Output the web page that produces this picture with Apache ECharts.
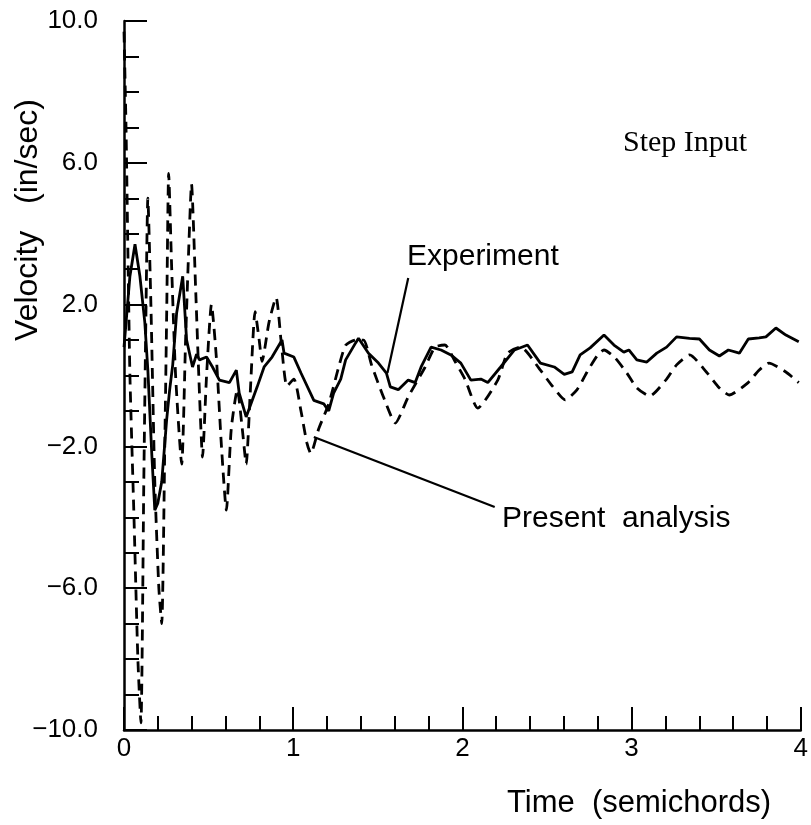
<!DOCTYPE html>
<html>
<head>
<meta charset="utf-8">
<script src="https://cdn.jsdelivr.net/npm/echarts@6/dist/echarts.min.js"></script>
<style>html,body{margin:0;padding:0;background:#fff;}#c{width:811px;height:825px;}</style>
</head>
<body>
<div id="c"></div>
<script>
// Experiment (solid line): time in semichords, velocity in in/sec
const expT = [0.000,0.035,0.065,0.094,0.123,0.141,0.164,0.182,0.200,0.223,0.252,0.270,0.288,0.311,0.347,0.370,0.405,0.429,0.446,0.488,0.523,0.564,0.623,0.664,0.681,0.722,0.758,0.787,0.828,0.875,0.934,0.946,1.004,1.046,1.122,1.181,1.210,1.239,1.281,1.310,1.369,1.386,1.445,1.504,1.551,1.574,1.621,1.680,1.721,1.756,1.815,1.874,1.932,1.991,2.050,2.109,2.150,2.226,2.308,2.385,2.461,2.543,2.602,2.649,2.696,2.755,2.837,2.896,2.954,2.984,3.031,3.090,3.149,3.207,3.266,3.343,3.401,3.460,3.519,3.572,3.637,3.690,3.754,3.794,3.853,3.912,3.988];
const expV = [0.8,2.8,3.7,2.8,1.5,0.15,-2.2,-3.8,-3.6,-3.0,-1.25,-0.4,0.3,1.76,2.8,1.0,0.24,0.6,0.44,0.52,0.24,-0.13,-0.2,0.15,-0.5,-1.17,-0.7,-0.32,0.24,0.52,1.0,0.63,0.52,0.07,-0.7,-0.8,-1.0,-0.5,-0.1,0.44,0.92,1.05,0.63,0.35,0.07,-0.32,-0.4,-0.13,-0.2,0.24,0.8,0.72,0.58,0.35,-0.13,-0.1,-0.2,0.24,0.72,0.86,0.35,0.24,0.03,0.1,0.58,0.78,1.14,0.86,0.66,0.72,0.44,0.38,0.63,0.8,1.09,1.05,1.03,0.72,0.55,0.72,0.63,1.03,1.06,1.09,1.34,1.14,0.95];

// Present analysis (dashed line)
const anaT = [0.000,0.012,0.023,0.035,0.059,0.082,0.100,0.117,0.129,0.141,0.159,0.182,0.206,0.223,0.241,0.253,0.264,0.282,0.305,0.341,0.364,0.382,0.399,0.423,0.446,0.464,0.488,0.517,0.546,0.576,0.605,0.634,0.670,0.699,0.722,0.746,0.775,0.799,0.816,0.857,0.899,0.928,0.963,1.004,1.046,1.081,1.104,1.151,1.210,1.269,1.310,1.369,1.416,1.463,1.533,1.604,1.680,1.780,1.838,1.897,1.956,2.015,2.091,2.209,2.267,2.344,2.461,2.532,2.608,2.678,2.737,2.796,2.837,2.902,2.972,3.031,3.107,3.207,3.266,3.343,3.442,3.519,3.577,3.689,3.753,3.812,3.912,3.988];
const anaV = [9.7,7.0,3.5,0.0,-4.0,-8.0,-9.8,-3.0,1.5,5.0,2.0,-3.0,-6.0,-7.0,-2.0,2.0,5.7,3.0,0.0,-2.5,1.0,3.5,5.4,2.5,-0.5,-2.3,0.0,2.0,0.5,-2.0,-3.8,-1.5,-0.4,-1.5,-2.5,-0.5,1.8,1.0,0.4,1.5,2.2,1.0,-0.3,-0.1,-1.0,-1.9,-2.2,-1.5,-0.8,0.24,0.85,1.0,1.0,0.3,-0.6,-1.34,-0.6,0.24,0.8,0.86,0.4,-0.1,-0.92,-0.13,0.63,0.8,0.15,-0.3,-0.69,-0.4,0.1,0.55,0.72,0.5,0.07,-0.35,-0.58,-0.1,0.3,0.58,0.1,-0.35,-0.55,-0.2,0.15,0.35,0.1,-0.2];

// Annotation leader lines: [t0, v0, t1, v1]
const expLeader = [1.680, 2.75, 1.557, 0.07];
const anaLeader = [1.122, -1.735, 2.191, -3.71];

const xTickLabels = ['0','1','2','3','4'];

const chart = echarts.init(document.getElementById('c'));
const sans = 'Liberation Sans';
const pair = (ts, vs) => ts.map((t, i) => [t, vs[i]]);
const fmtY = v => (v < 0 ? '\u2212' : '') + Math.abs(v).toFixed(1);

chart.setOption({
  animation: false,
  backgroundColor: '#fff',
  grid: { left: 124, top: 21, right: 6, bottom: 95 },
  xAxis: {
    type: 'value', min: 0, max: 4, interval: 1,
    axisLine: { show: true, onZero: false, lineStyle: { color: '#000', width: 2.5 } },
    axisTick: { show: true, inside: true, length: 23, lineStyle: { color: '#000', width: 2 } },
    minorTick: { show: true, splitNumber: 5, length: 14, lineStyle: { color: '#000', width: 2 } },
    splitLine: { show: false },
    axisLabel: { color: '#000', fontFamily: sans, fontSize: 26, margin: 6,
      formatter: v => xTickLabels[Math.round(v)] },
  },
  yAxis: {
    type: 'value', min: -10, max: 10, interval: 4,
    axisLine: { show: true, onZero: false, lineStyle: { color: '#000', width: 2.5 } },
    axisTick: { show: true, inside: true, length: 23, lineStyle: { color: '#000', width: 2 } },
    minorTick: { show: true, splitNumber: 4, length: 15, lineStyle: { color: '#000', width: 2 } },
    splitLine: { show: false },
    axisLabel: { color: '#000', fontFamily: sans, fontSize: 26, margin: 26, formatter: fmtY },
  },
  series: [
    {
      name: 'Experiment', type: 'line', data: pair(expT, expV), symbol: 'none',
      lineStyle: { color: '#000', width: 2.8, type: 'solid' },
      markLine: {
        silent: true, symbol: 'none', label: { show: false },
        lineStyle: { color: '#000', width: 2.2, type: 'solid' },
        data: [
          [{ coord: [expLeader[0], expLeader[1]] }, { coord: [expLeader[2], expLeader[3]] }],
          [{ coord: [anaLeader[0], anaLeader[1]] }, { coord: [anaLeader[2], anaLeader[3]] }]
        ]
      }
    },
    {
      name: 'Present analysis', type: 'line', data: pair(anaT, anaV), symbol: 'none',
      smooth: 0.2,
      lineStyle: { color: '#000', width: 2.8, type: [11, 7] }
    }
  ],
  graphic: [
    { type: 'text', left: 407, top: 242, style: { text: 'Experiment', fontFamily: sans, fontSize: 30, fill: '#000' } },
    { type: 'text', left: 502, top: 504, style: { text: 'Present  analysis', fontFamily: sans, fontSize: 30, fill: '#000' } },
    { type: 'text', left: 623, top: 128, style: { text: 'Step Input', fontFamily: 'Liberation Serif', fontSize: 30, fill: '#000' } },
    { type: 'text', left: 507, top: 788, style: { text: 'Time  (semichords)', fontFamily: sans, fontSize: 31, fill: '#000' } },
    { type: 'text', x: 28, y: 220, rotation: Math.PI / 2,
      style: { text: 'Velocity   (in/sec)', fontFamily: sans, fontSize: 32, fill: '#000', align: 'center', verticalAlign: 'middle' } }
  ]
});
</script>
</body>
</html>
